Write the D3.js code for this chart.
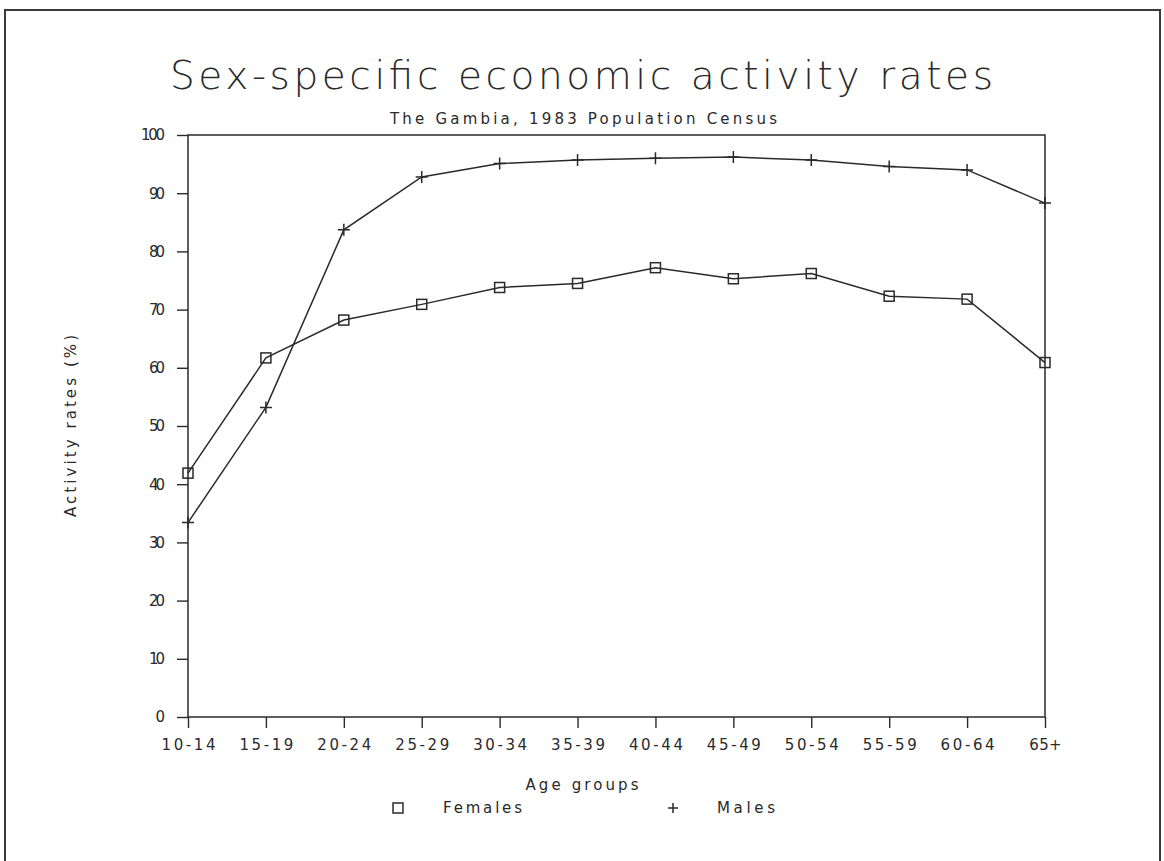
<!DOCTYPE html>
<html>
<head>
<meta charset="utf-8">
<script src="https://cdn.jsdelivr.net/npm/d3@7"></script>
<style>
  html, body { margin: 0; padding: 0; background: #fff; }
  svg { display: block; }
  text { font-family: "DejaVu Sans", "Liberation Sans", sans-serif; fill: #2a2a2a; }
</style>
</head>
<body>
<svg id="chart" width="1164" height="861"></svg>
<script>
// ---- data ----
const categories = ["10-14", "15-19", "20-24", "25-29", "30-34", "35-39", "40-44", "45-49", "50-54", "55-59", "60-64", "65+"];
const females = [41.9, 61.7, 68.2, 70.9, 73.8, 74.5, 77.2, 75.3, 76.2, 72.3, 71.8, 60.9];
const males   = [33.4, 53.2, 83.7, 92.8, 95.1, 95.7, 96.0, 96.2, 95.7, 94.6, 94.0, 88.3];
const yTicks  = [0, 10, 20, 30, 40, 50, 60, 70, 80, 90, 100];
const seriesNames = ["Females", "Males"];
const titleText = "Sex-specific economic activity rates";
const subtitleText = "The Gambia, 1983 Population Census";
const xTitle = "Age groups";
const yTitle = "Activity rates (%)";

// ---- layout ----
const W = 1164, H = 861;
const plot = { left: 188, right: 1045, top: 135, bottom: 717 };
const ink = "#2a2a2a";
const fs = "15px";

const svg = d3.select("#chart");
svg.append("rect").attr("width", W).attr("height", H).attr("fill", "#fff");

// outer page border
svg.append("rect")
  .attr("x", 5).attr("y", 10).attr("width", 1155).attr("height", 900)
  .attr("fill", "none").attr("stroke", "#3a3a3a").attr("stroke-width", 2);

const x = d3.scalePoint().domain(categories).range([plot.left, plot.right]);
const y = d3.scaleLinear().domain([0, 100]).range([plot.bottom, plot.top]);

// titles
svg.append("text").attr("x", 170).attr("y", 89)
  .attr("textLength", 823).attr("lengthAdjust", "spacing")
  .style("font-size", "39px").style("font-weight", 300)
  .text(titleText);

svg.append("text").attr("x", 390).attr("y", 124)
  .attr("textLength", 387).attr("lengthAdjust", "spacing")
  .style("font-size", fs)
  .text(subtitleText);

// axes
const gy = svg.append("g").attr("transform", `translate(${plot.left},0)`)
  .call(d3.axisLeft(y).tickValues(yTicks).tickSize(11).tickSizeOuter(0).tickPadding(12).tickFormat(d3.format("d")));
gy.select(".domain").remove();
gy.selectAll(".tick line").attr("stroke", ink).attr("stroke-width", 1.4);
gy.selectAll(".tick text").style("font-size", fs).attr("fill", ink)
  .style("font-family", "'DejaVu Sans', sans-serif")
  .each(function (d) { d3.select(this).attr("textLength", String(d).length * 8).attr("lengthAdjust", "spacing"); });

const gx = svg.append("g").attr("transform", `translate(0,${plot.bottom})`)
  .call(d3.axisBottom(x).tickSize(11).tickSizeOuter(0).tickPadding(12));
gx.select(".domain").remove();
gx.selectAll(".tick line").attr("stroke", ink).attr("stroke-width", 1.4);
gx.selectAll(".tick text").style("font-size", fs).attr("fill", ink)
  .style("font-family", "'DejaVu Sans', sans-serif")
  .attr("dy", 0).attr("y", 33)
  .each(function (d) { d3.select(this).attr("textLength", d.length * 10.8).attr("lengthAdjust", "spacing"); });

// plot frame
svg.append("rect")
  .attr("x", plot.left).attr("y", plot.top)
  .attr("width", plot.right - plot.left).attr("height", plot.bottom - plot.top)
  .attr("fill", "none").attr("stroke", ink).attr("stroke-width", 1.5);

// axis titles
svg.append("text").attr("x", 582).attr("y", 790).attr("text-anchor", "middle")
  .attr("textLength", 113).attr("lengthAdjust", "spacing")
  .style("font-size", fs).text(xTitle);

svg.append("text")
  .attr("transform", `translate(76,${(plot.top + plot.bottom) / 2}) rotate(-90)`)
  .attr("text-anchor", "middle")
  .attr("textLength", 182).attr("lengthAdjust", "spacing")
  .style("font-size", fs).text(yTitle);

// lines
const line = d3.line().x((d, i) => x(categories[i])).y(d => y(d));
svg.append("path").datum(females).attr("d", line)
  .attr("fill", "none").attr("stroke", ink).attr("stroke-width", 1.5);
svg.append("path").datum(males).attr("d", line)
  .attr("fill", "none").attr("stroke", ink).attr("stroke-width", 1.5);

// markers
const sq = 10, pl = 6;
svg.append("g").selectAll("rect").data(females).join("rect")
  .attr("x", (d, i) => x(categories[i]) - sq / 2)
  .attr("y", d => y(d) - sq / 2)
  .attr("width", sq).attr("height", sq)
  .attr("fill", "none").attr("stroke", ink).attr("stroke-width", 1.5);

svg.append("g").selectAll("path").data(males).join("path")
  .attr("d", (d, i) => {
    const cx = x(categories[i]), cy = y(d);
    return `M${cx - pl},${cy}H${cx + pl}M${cx},${cy - pl}V${cy + pl}`;
  })
  .attr("fill", "none").attr("stroke", ink).attr("stroke-width", 1.5);

// legend
const lg = svg.append("g");
lg.append("rect").attr("x", 393).attr("y", 803).attr("width", 10).attr("height", 10)
  .attr("fill", "none").attr("stroke", ink).attr("stroke-width", 1.5);
lg.append("text").attr("x", 443).attr("y", 813)
  .attr("textLength", 79).attr("lengthAdjust", "spacing")
  .style("font-size", fs).text(seriesNames[0]);
lg.append("path").attr("d", "M668,808H678M673,803V813")
  .attr("stroke", ink).attr("stroke-width", 1.5);
lg.append("text").attr("x", 717).attr("y", 813)
  .attr("textLength", 58).attr("lengthAdjust", "spacing")
  .style("font-size", fs).text(seriesNames[1]);
</script>
</body>
</html>
